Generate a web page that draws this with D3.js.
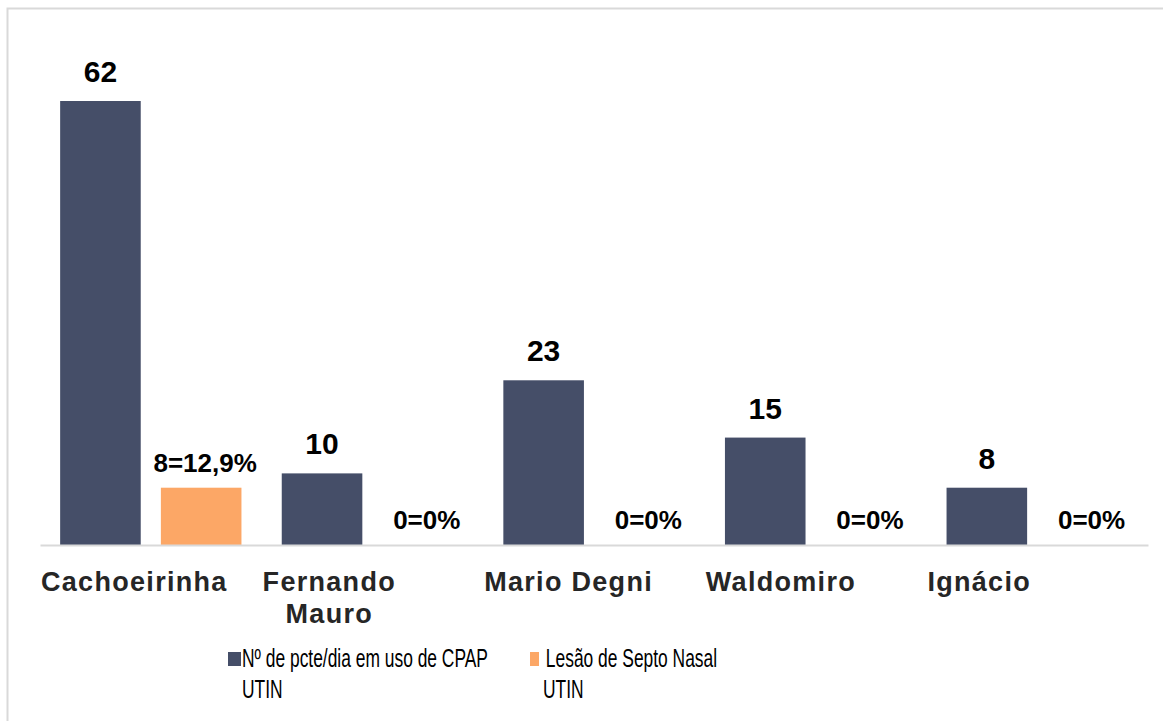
<!DOCTYPE html>
<html>
<head>
<meta charset="utf-8">
<script src="https://cdn.jsdelivr.net/npm/d3@7"></script>
<style>
  html, body { margin: 0; padding: 0; background: #ffffff; }
  svg { display: block; font-family: "Liberation Sans", Arial, sans-serif; }
</style>
</head>
<body>
<svg id="chart" width="1163" height="721"></svg>
<script>
// Hospital units (category labels, one array entry per line)
const categories = ["Cachoeirinha", "Fernando Mauro", "Mario Degni", "Waldomiro", "Ignácio"];
const categoryLines = [["Cachoeirinha"], ["Fernando", "Mauro"], ["Mario Degni"], ["Waldomiro"], ["Ignácio"]];

// Series
const seriesNames = ["Nº de pcte/dia em uso de CPAP UTIN", "Lesão de Septo Nasal UTIN"];
const cpapValues = [62, 10, 23, 15, 8];
const lesaoValues = [8, 0, 0, 0, 0];
const lesaoLabels = ["8=12,9%", "0=0%", "0=0%", "0=0%", "0=0%"];

const colors = ["#454e68", "#fca766"];

const svg = d3.select("#chart");

// Outer frame
svg.append("rect")
  .attr("x", 7.5).attr("y", 8.5)
  .attr("width", 1200).attr("height", 800)
  .attr("fill", "none").attr("stroke", "#d9d9d9").attr("stroke-width", 2);

const plot = { left: 40, right: 1148, top: 101, bottom: 545 };

const x0 = d3.scaleBand()
  .domain(categories)
  .range([plot.left, plot.right])
  .paddingInner(0).paddingOuter(0);

const x1 = d3.scaleBand()
  .domain([0, 1])
  .range([0, x0.bandwidth()])
  .paddingInner(0.2).paddingOuter(0.2);

const y = d3.scaleLinear()
  .domain([0, d3.max(cpapValues)])
  .range([plot.bottom, plot.top]);

const rows = categories.map((c, i) => ({
  cat: c,
  vals: [
    { s: 0, v: cpapValues[i], label: String(cpapValues[i]) },
    { s: 1, v: lesaoValues[i], label: lesaoLabels[i] }
  ]
}));

const groups = svg.append("g").selectAll("g")
  .data(rows).join("g")
  .attr("transform", d => `translate(${x0(d.cat)},0)`);

groups.selectAll("rect")
  .data(d => d.vals).join("rect")
  .attr("x", d => x1(d.s))
  .attr("width", x1.bandwidth())
  .attr("y", d => y(d.v))
  .attr("height", d => plot.bottom - y(d.v))
  .attr("fill", d => colors[d.s]);

groups.selectAll("text.val")
  .data(d => d.vals).join("text")
  .attr("class", "val")
  .attr("x", d => x1(d.s) + x1.bandwidth() / 2 + (d.s === 1 ? 4 : 0))
  .attr("y", d => y(d.v) - (d.s === 0 ? 19 : 16))
  .attr("text-anchor", "middle")
  .attr("font-weight", "bold")
  .attr("font-size", d => d.s === 0 ? 30 : 26)
  .attr("fill", "#000")
  .text(d => d.label);

// Baseline axis
const xAxis = svg.append("g")
  .attr("transform", `translate(0,${plot.bottom})`)
  .call(d3.axisBottom(x0).tickSize(0).tickFormat(""));
xAxis.select(".domain").attr("stroke", "#d9d9d9").attr("stroke-width", 2);

// Category labels: multi-line block, lines centered, block starting at band start
const catG = svg.append("g");
categories.forEach((c, i) => {
  const g = catG.append("g");
  const lines = categoryLines[i];
  const texts = lines.map((ln, k) => g.append("text")
    .attr("y", 591 + k * 32)
    .attr("font-size", 27)
    .attr("font-weight", "bold")
    .attr("letter-spacing", 1.3)
    .attr("fill", "#262626")
    .attr("text-anchor", "middle")
    .text(ln));
  const w = d3.max(texts, t => t.node().getComputedTextLength());
  texts.forEach(t => t.attr("x", x0(c) + 1 + w / 2));
});

// Legend
const legend = svg.append("g");
const legendItems = [
  { sx: 228, sw: 13, tx: 242, lines: ["Nº de pcte/dia em uso de CPAP", "UTIN"], l2x: 242 },
  { sx: 530, sw: 9, tx: 541, lines: [" Lesão de Septo Nasal", "UTIN"], l2x: 543 }
];
legendItems.forEach((it, i) => {
  legend.append("rect")
    .attr("x", it.sx).attr("y", 652)
    .attr("width", it.sw).attr("height", 14)
    .attr("fill", colors[i]);
  it.lines.forEach((ln, k) => {
    const tx = k === 0 ? it.tx : it.l2x;
    legend.append("text")
      .attr("transform", `translate(${tx},${667 + k * 31}) scale(0.67,1)`)
      .attr("font-size", 26)
      .attr("fill", "#000")
      .attr("xml:space", "preserve")
      .style("white-space", "pre")
      .text(ln);
  });
});
</script>
</body>
</html>
